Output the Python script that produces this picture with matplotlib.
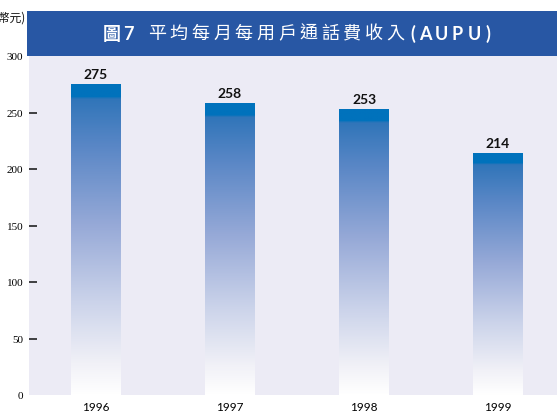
import matplotlib.pyplot as plt
import numpy as np
from matplotlib.colors import LinearSegmentedColormap
from matplotlib.patches import Rectangle

years = ['1996', '1997', '1998', '1999']
aupu = [275, 258, 253, 214]
yticks = [0, 50, 100, 150, 200, 250, 300]

W, H = 557, 414
fig = plt.figure(figsize=(W / 100, H / 100), dpi=100)
ax = fig.add_axes([29 / W, 18 / H, 1 - 29 / W, (396 - 57) / H])
ax.set_facecolor('#ECEBF5')
for s in ax.spines.values():
    s.set_visible(False)

# gradient for the bars: white at the bottom, blue at the top
cmap = LinearSegmentedColormap.from_list('bar', [
    (0.0, '#FFFFFF'), (0.1, '#F1F1F7'), (0.3, '#CBD3EA'), (0.55, '#96A9D7'),
    (0.8, '#5A87C6'), (0.955, '#3075B9'), (0.96, '#0072BC'), (1.0, '#0072BC')])
grad = np.linspace(0, 1, 256).reshape(-1, 1)
w = 0.373
x = np.arange(len(years))
for xi, v in zip(x, aupu):
    ax.imshow(grad, cmap=cmap, origin='lower', aspect='auto',
              extent=[xi - w / 2, xi + w / 2, 0, v], zorder=2)
    ax.text(xi, v + 4, str(v), ha='center', va='bottom', fontsize=10,
            fontweight='bold', family='Lato', color='#111111')

ax.set_xlim(-0.5, 3.44)
ax.set_ylim(0, 300)
ax.set_xticks(x)
ax.set_xticklabels(years, family='Lato', fontsize=8.5)
ax.tick_params(axis='x', length=0, pad=4)
ax.set_yticks(yticks)
ax.set_yticklabels([str(t) for t in yticks], family='Liberation Serif', fontsize=8)
ax.tick_params(axis='y', direction='in', length=6, width=1.2, color='#222222', pad=4)
ax.yaxis.get_major_ticks()[0].tick1line.set_visible(False)
ax.yaxis.get_major_ticks()[-1].tick1line.set_visible(False)

# title banner
fig.patches.append(Rectangle((27 / W, (H - 57) / H), 1 - 27 / W, 45 / H,
                             transform=fig.transFigure, facecolor='#2857A4',
                             edgecolor='none', zorder=3))
ty = (H - 34) / H
cjk = ['Noto Sans CJK TC', 'DejaVu Sans']
fs = 13
fig.text(112 / W, ty, '圖', ha='center', va='center', color='white', fontsize=fs,
         fontweight='bold', family=cjk, zorder=4)
fig.text(128.5 / W, ty, '7', ha='center', va='center', color='white', fontsize=fs,
         fontweight='bold', family='Lato', zorder=4)
for i, ch in enumerate('平均每月每用戶通話費收入'):
    fig.text((157 + i * 21.7) / W, ty, ch, ha='center', va='center', color='white',
             fontsize=fs, fontweight='medium', family=cjk, zorder=4)
for ch, cx in zip('(AUPU)', [413, 425, 441, 457, 474, 488]):
    fig.text(cx / W, ty, ch, ha='center', va='center', color='white',
             fontsize=fs, fontweight='bold', family='Lato', zorder=4)
fig.text(26 / W, (H - 18) / H, '(港幣元)', ha='right', va='center', fontsize=8.5,
         family=cjk, color='#111111')

fig.savefig('out.png', dpi=100)
